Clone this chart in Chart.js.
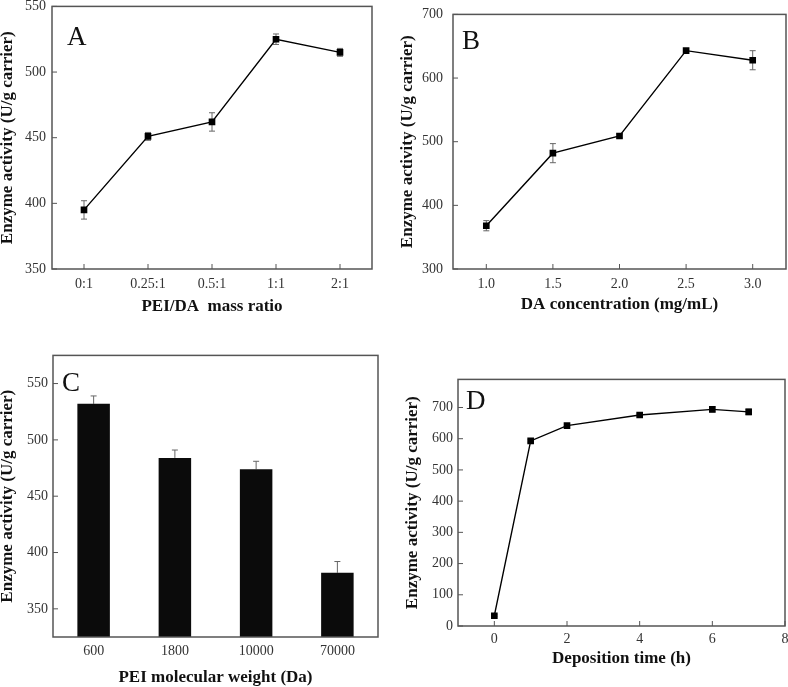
<!DOCTYPE html>
<html lang="en">
<head>
    <meta charset="UTF-8">
    <title>Enzyme activity</title>
    <script src="https://cdn.jsdelivr.net/npm/chart.js"></script>
    <style>
        html, body {
            margin: 0;
            padding: 0;
            background: #fff;
            width: 788px;
            height: 687px;
            overflow: hidden;
            position: relative;
        }
        canvas {
            position: absolute;
        }
    </style>
</head>
<body>
    <canvas id="chartA"></canvas>
    <canvas id="chartB"></canvas>
    <canvas id="chartC"></canvas>
    <canvas id="chartD"></canvas>

    <script>
        // A: PEI/DA mass ratio
        const ratioLabels = ['0:1', '0.25:1', '0.5:1', '1:1', '2:1'];
        const actA = [395, 451, 462, 525, 515];
        const errA = [7, 3, 7, 4, 3];
        const yTicksA = [350, 400, 450, 500, 550];

        // B: DA concentration
        const daLabels = ['1.0', '1.5', '2.0', '2.5', '3.0'];
        const actB = [368, 482, 509, 643, 628];
        const errB = [8, 15, 3, 3, 15];
        const yTicksB = [300, 400, 500, 600, 700];

        // C: PEI molecular weight
        const mwLabels = ['600', '1800', '10000', '70000'];
        const actC = [532, 484, 474, 382];
        const errC = [7, 7, 7, 10];
        const yTicksC = [350, 400, 450, 500, 550];

        // D: deposition time
        const timeD = [0, 1, 2, 4, 6, 7];
        const actD = [33, 593, 642, 676, 694, 686];
        const errD = [3, 4, 4, 4, 8, 9];
        const xTicksD = [0, 2, 4, 6, 8];
        const yTicksD = [0, 100, 200, 300, 400, 500, 600, 700];

        const yTitle = 'Enzyme activity (U/g carrier)';
        const serif = "'Liberation Serif', 'DejaVu Serif', serif";
        const frameColor = '#555';
        const titleSize = 17;

        Chart.defaults.font.family = serif;
        Chart.defaults.font.size = 14;
        Chart.defaults.color = '#333';

        // frame, inward ticks and panel letter
        const framePlugin = {
            id: 'frame',
            beforeDatasetsDraw(chart) {
                const { ctx, chartArea: a, scales } = chart;
                ctx.save();
                ctx.strokeStyle = frameColor;
                ctx.lineWidth = 1;
                ctx.beginPath();
                scales.x.ticks.forEach((t, i) => {
                    const p = scales.x.getPixelForTick(i);
                    ctx.moveTo(p, a.bottom);
                    ctx.lineTo(p, a.bottom - 5);
                });
                scales.y.ticks.forEach((t, i) => {
                    const p = scales.y.getPixelForTick(i);
                    ctx.moveTo(a.left, p);
                    ctx.lineTo(a.left + 5, p);
                });
                ctx.stroke();
                ctx.restore();
            },
            afterDraw(chart, args, opts) {
                const { ctx, chartArea: a } = chart;
                ctx.save();
                ctx.strokeStyle = frameColor;
                ctx.lineWidth = 1.5;
                ctx.strokeRect(a.left, a.top, a.right - a.left, a.bottom - a.top);
                ctx.fillStyle = '#111';
                ctx.font = '27px ' + serif;
                ctx.textBaseline = 'alphabetic';
                ctx.textAlign = 'left';
                ctx.fillText(opts.letter, a.left + opts.dx, a.top + opts.dy);
                ctx.restore();
            }
        };

        // error bars
        const errorPlugin = {
            id: 'errorBars',
            beforeDatasetsDraw(chart, args, opts) {
                const { ctx, scales } = chart;
                const meta = chart.getDatasetMeta(0);
                const vals = chart.data.datasets[0].data;
                ctx.save();
                ctx.strokeStyle = opts.color;
                ctx.lineWidth = 1;
                ctx.beginPath();
                meta.data.forEach((el, i) => {
                    const v = typeof vals[i] === 'object' ? vals[i].y : vals[i];
                    const e = opts.errors[i];
                    const top = scales.y.getPixelForValue(v + e);
                    const bot = scales.y.getPixelForValue(opts.upOnly ? v : v - e);
                    const x = el.x;
                    const c = opts.cap;
                    ctx.moveTo(x, top); ctx.lineTo(x, bot);
                    ctx.moveTo(x - c, top); ctx.lineTo(x + c, top);
                    if (!opts.upOnly) { ctx.moveTo(x - c, bot); ctx.lineTo(x + c, bot); }
                });
                ctx.stroke();
                ctx.restore();
            }
        };

        function placeCanvas(id, g) {
            const cv = document.getElementById(id);
            const cy = g.T - 12;
            const cw = g.R + 12 - g.cx;
            const ch = Math.round(g.Ty + titleSize * 0.6) - cy;
            cv.width = cw;
            cv.height = ch;
            cv.style.left = g.cx + 'px';
            cv.style.top = cy + 'px';
            cv.style.width = cw + 'px';
            cv.style.height = ch + 'px';
            g.yW = g.L - g.cx;
            g.xH = cy + ch - g.B;
            return cv;
        }

        function titleOpts(text) {
            return {
                display: true,
                text: text,
                color: '#111',
                font: { size: titleSize, weight: 'bold', family: serif },
                padding: { top: 0, bottom: 0 }
            };
        }

        function yAxis(g, min, max, ticks, pad) {
            return {
                type: 'linear',
                min: min,
                max: max,
                afterBuildTicks: s => { s.ticks = ticks.map(v => ({ value: v })); },
                afterFit: s => { s.width = g.yW; },
                grid: { display: false, drawTicks: false },
                border: { display: false },
                ticks: { padding: pad },
                title: titleOpts(yTitle)
            };
        }

        function xCat(g, title, pad) {
            return {
                type: 'category',
                offset: true,
                afterFit: s => { s.height = g.xH; },
                grid: { display: false, drawTicks: false },
                border: { display: false },
                ticks: { padding: pad, maxRotation: 0 },
                title: titleOpts(title)
            };
        }

        function lineSet(data) {
            return {
                data: data,
                borderColor: '#000',
                borderWidth: 1.4,
                pointStyle: 'rect',
                pointRadius: 4.7,
                pointBackgroundColor: '#000',
                pointBorderWidth: 0,
                tension: 0
            };
        }

        function baseOptions(g, scales, letter, dx, dy, errors, upOnly) {
            return {
                responsive: false,
                animation: false,
                layout: { padding: { top: 12, right: 12, bottom: 0, left: 0 } },
                scales: scales,
                plugins: {
                    legend: { display: false },
                    tooltip: { enabled: false },
                    frame: { letter: letter, dx: dx, dy: dy },
                    errorBars: { errors: errors, upOnly: upOnly, cap: 3, color: '#666' }
                }
            };
        }

        // Panel A
        const gA = { cx: -3, L: 52, R: 372, T: 4, B: 269, Ty: 307 };
        placeCanvas('chartA', gA);
        new Chart(document.getElementById('chartA'), {
            type: 'line',
            data: { labels: ratioLabels, datasets: [lineSet(actA)] },
            options: baseOptions(gA, {
                x: xCat(gA, 'PEI/DA  mass ratio', 7),
                y: yAxis(gA, 350, 550, yTicksA, 6)
            }, 'A', 15, 39, errA, false),
            plugins: [framePlugin, errorPlugin]
        });

        // Panel B
        const gB = { cx: 397, L: 453, R: 786, T: 8, B: 269, Ty: 305 };
        placeCanvas('chartB', gB);
        new Chart(document.getElementById('chartB'), {
            type: 'line',
            data: { labels: daLabels, datasets: [lineSet(actB)] },
            options: baseOptions(gB, {
                x: xCat(gB, 'DA concentration (mg/mL)', 7),
                y: yAxis(gB, 300, 700, yTicksB, 10)
            }, 'B', 9, 35, errB, false),
            plugins: [framePlugin, errorPlugin]
        });

        // Panel C
        const gC = { cx: -3, L: 53, R: 378, T: 354, B: 637, Ty: 678 };
        placeCanvas('chartC', gC);
        new Chart(document.getElementById('chartC'), {
            type: 'bar',
            data: {
                labels: mwLabels,
                datasets: [{
                    data: actC,
                    backgroundColor: '#0b0b0b',
                    borderWidth: 0,
                    barPercentage: 0.4,
                    categoryPercentage: 1.0
                }]
            },
            options: baseOptions(gC, {
                x: xCat(gC, 'PEI molecular weight (Da)', 6),
                y: yAxis(gC, 325, 575, yTicksC, 5)
            }, 'C', 9, 36, errC, true),
            plugins: [framePlugin, errorPlugin]
        });

        // Panel D
        const gD = { cx: 402, L: 458, R: 785, T: 378, B: 626, Ty: 659 };
        placeCanvas('chartD', gD);
        new Chart(document.getElementById('chartD'), {
            type: 'line',
            data: { datasets: [lineSet(timeD.map((t, i) => ({ x: t, y: actD[i] })))] },
            options: baseOptions(gD, {
                x: {
                    type: 'linear',
                    min: -1,
                    max: 8,
                    afterBuildTicks: s => { s.ticks = xTicksD.map(v => ({ value: v })); },
                    afterFit: s => { s.height = gD.xH; },
                    grid: { display: false, drawTicks: false },
                    border: { display: false },
                    ticks: { padding: 5, maxRotation: 0 },
                    title: titleOpts('Deposition time (h)')
                },
                y: yAxis(gD, 0, 790, yTicksD, 5)
            }, 'D', 8, 30, errD, false),
            plugins: [framePlugin, errorPlugin]
        });
    </script>
</body>
</html>
